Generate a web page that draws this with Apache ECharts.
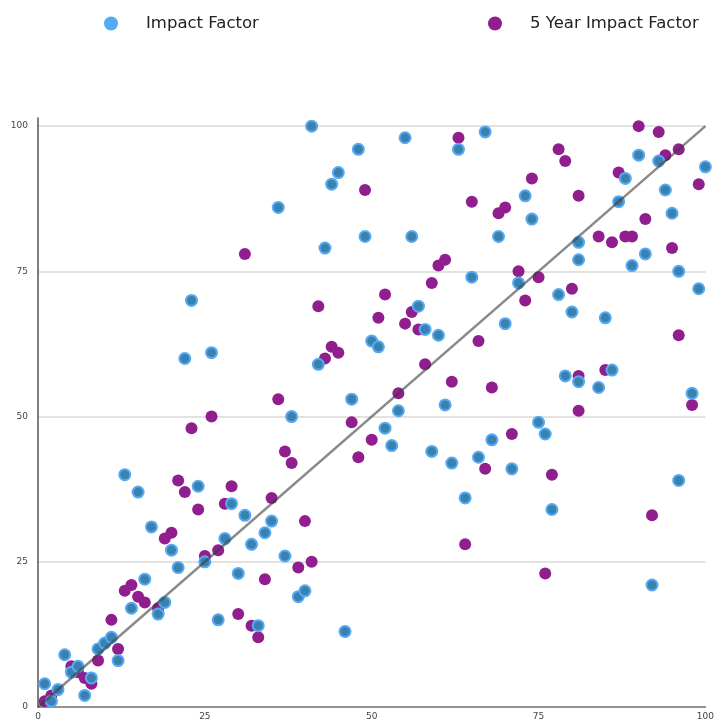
<!DOCTYPE html>
<html>
<head>
<meta charset="utf-8">
<script src="https://cdn.jsdelivr.net/npm/echarts@6/dist/echarts.min.js"></script>
<style>
  html, body { margin: 0; padding: 0; background: #ffffff; overflow: hidden; }
  #chart { width: 717px; height: 721px; }
</style>
</head>
<body>
<div id="chart"></div>
<script>
// Series names shown in the legend
const seriesNames = ['Impact Factor', '5 Year Impact Factor'];

// Impact Factor percentile pairs [x, y]
const impactFactor = [
  [1,4],[2,1],[3,3],[4,9],[5,6],[6,7],[7,2],[8,5],[9,10],[10,11],
  [11,12],[12,8],[13,40],[14,17],[15,37],[16,22],[17,31],[18,16],[19,18],[20,27],
  [21,24],[22,60],[23,70],[24,38],[25,25],[26,61],[27,15],[28,29],[29,35],[30,23],
  [31,33],[32,28],[33,14],[34,30],[35,32],[36,86],[37,26],[38,50],[39,19],[40,20],
  [41,100],[42,59],[43,79],[44,90],[45,92],[46,13],[47,53],[48,96],[49,81],[50,63],
  [51,62],[52,48],[53,45],[54,51],[55,98],[56,81],[57,69],[58,65],[59,44],[60,64],
  [61,52],[62,42],[63,96],[64,36],[65,74],[66,43],[67,99],[68,46],[69,81],[70,66],
  [71,41],[72,73],[73,88],[74,84],[75,49],[76,47],[77,34],[78,71],[79,57],[80,68],
  [81,80],[81,77],[81,56],[84,55],[85,67],[86,58],[87,87],[88,91],[89,76],[90,95],
  [91,78],[92,21],[93,94],[94,89],[95,85],[96,75],[96,39],[98,54],[99,72],[100,93]
];

// 5 Year Impact Factor percentile pairs [x, y]
const fiveYearImpactFactor = [
  [1,1],[2,2],[5,7],[6,6],[7,5],[8,4],[9,8],[11,15],[12,10],[13,20],
  [14,21],[15,19],[16,18],[18,17],[19,29],[20,30],[21,39],[22,37],[23,48],[24,34],
  [25,26],[26,50],[27,27],[28,35],[29,38],[30,16],[31,78],[32,14],[33,12],[34,22],
  [35,36],[36,53],[37,44],[38,42],[39,24],[40,32],[41,25],[42,69],[43,60],[44,62],
  [45,61],[46,13],[47,49],[48,43],[49,89],[50,46],[51,67],[52,71],[54,54],[55,66],
  [56,68],[57,65],[58,59],[59,73],[60,76],[61,77],[62,56],[63,98],[64,28],[65,87],
  [66,63],[67,41],[68,55],[69,85],[70,86],[71,47],[72,75],[73,70],[74,91],[75,74],
  [76,23],[77,40],[78,96],[79,94],[80,72],[81,88],[81,57],[81,51],[84,81],[85,58],
  [86,80],[87,92],[88,81],[89,81],[90,100],[91,84],[92,33],[93,99],[94,95],[95,79],
  [96,96],[96,64],[98,52],[99,90]
];

// y = x reference diagonal
const referenceLine = [[0, 0], [100, 100]];

// Axis ticks
const axisTicks = [0, 25, 50, 75, 100];

const blue = '#3b81ae';
const blueRing = '#55aaf5';
const purple = '#911e8f';

const chart = echarts.init(document.getElementById('chart'), null, { renderer: 'canvas' });

const legendText = { fontFamily: 'DejaVu Sans', fontSize: 16.5, color: '#222' };
const tickLabel = { fontFamily: 'DejaVu Sans', fontSize: 9, color: '#444' };

chart.setOption({
  animation: false,
  backgroundColor: '#ffffff',
  legend: [
    {
      data: [{ name: seriesNames[0], itemStyle: { color: blueRing, borderWidth: 0 } }],
      left: 99, top: 10, icon: 'circle', itemWidth: 60, itemHeight: 14,
      textStyle: legendText, selectedMode: false
    },
    {
      data: [{ name: seriesNames[1], itemStyle: { color: purple, borderWidth: 0 } }],
      left: 483, top: 10, icon: 'circle', itemWidth: 60, itemHeight: 14,
      textStyle: legendText, selectedMode: false
    }
  ],
  grid: { left: 38, right: 4, top: 118, bottom: 11, containLabel: false },
  xAxis: {
    type: 'value',
    min: axisTicks[0],
    max: axisTicks[axisTicks.length - 1],
    interval: 25,
    axisLine: { show: true, lineStyle: { color: '#707070', width: 1.5 } },
    axisTick: { show: false },
    axisLabel: { ...tickLabel, margin: 5 },
    splitLine: { show: false }
  },
  yAxis: {
    type: 'value',
    min: axisTicks[0],
    max: 101.4,
    interval: 25,
    axisLine: { show: true, lineStyle: { color: '#555555', width: 1.5 } },
    axisTick: { show: false },
    axisLabel: { ...tickLabel, margin: 10, showMaxLabel: false },
    splitLine: {
      show: true, showMinLine: false, showMaxLine: false,
      lineStyle: { color: '#d9d9d9', width: 1.5 }
    }
  },
  series: [
    {
      name: seriesNames[1],
      type: 'scatter',
      data: fiveYearImpactFactor,
      symbolSize: 12,
      itemStyle: { color: purple, opacity: 1 },
      z: 2
    },
    {
      name: seriesNames[0],
      type: 'scatter',
      data: impactFactor,
      symbolSize: 11,
      itemStyle: { color: blue, borderColor: blueRing, borderWidth: 2, opacity: 1 },
      z: 3
    },
    {
      name: 'y = x',
      type: 'line',
      data: referenceLine,
      showSymbol: false,
      symbol: 'none',
      silent: true,
      lineStyle: { color: 'rgba(60,60,60,0.6)', width: 2.5 },
      z: 4
    }
  ]
});
</script>
</body>
</html>
